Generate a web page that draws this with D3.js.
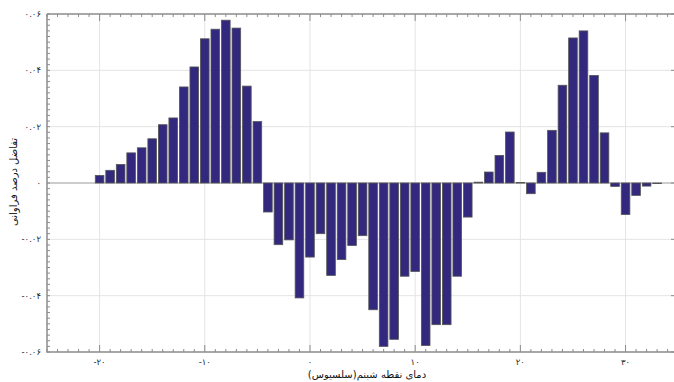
<!DOCTYPE html>
<html>
<head>
<meta charset="utf-8">
<script src="https://cdn.jsdelivr.net/npm/d3@7"></script>
<style>
	body { margin: 0; background: #fff; }
	svg { display: block; }
	text { font-family: "DejaVu Sans", sans-serif; }
</style>
</head>
<body>
<svg id="chart" width="674" height="382"></svg>
<script>
// dew point temperature (°C), one bar per degree
const temps = [
	-20, -19, -18, -17, -16, -15, -14, -13, -12, -11,
	-10, -9, -8, -7, -6, -5, -4, -3, -2, -1,
	0, 1, 2, 3, 4, 5, 6, 7, 8, 9,
	10, 11, 12, 13, 14, 15, 16, 17, 18, 19,
	20, 21, 22, 23, 24, 25, 26, 27, 28, 29,
	30, 31, 32, 33,
];
// difference in frequency percentage
const diffs = [
	0.0027, 0.0045, 0.0066, 0.0107, 0.0125, 0.0157, 0.0207, 0.0231, 0.0341, 0.0412,
	0.0512, 0.0546, 0.0578, 0.0550, 0.0344, 0.0218, -0.0103, -0.0219, -0.0202, -0.0408,
	-0.0263, -0.0180, -0.0328, -0.0272, -0.0222, -0.0187, -0.0450, -0.0580, -0.0555, -0.0331,
	-0.0314, -0.0577, -0.0503, -0.0503, -0.0331, -0.0121, 0.0003, 0.0039, 0.0098, 0.0181,
	0.0002, -0.0038, 0.0038, 0.0187, 0.0347, 0.0515, 0.0540, 0.0382, 0.0178, -0.0012,
	-0.0112, -0.0044, -0.0011, -0.0002,
];
const xTicks = [-20, -10, 0, 10, 20, 30];
const xTickLabels = ['-۲۰', '-۱۰', '۰', '۱۰', '۲۰', '۳۰'];
const yTicks = [0.06, 0.04, 0.02, 0, -0.02, -0.04, -0.06];
const yTickLabels = ['۰.۰۶', '۰.۰۴', '۰.۰۲', '۰', '-۰.۰۲', '-۰.۰۴', '-۰.۰۶'];
const xLabel = 'دمای نقطه شبنم(سلسیوس)';
const yLabel = 'تفاضل درصد فراوانی';

const svg = d3.select('#chart');
const m = { left: 47, right: 675, top: 14, bottom: 352 };

const x = d3.scaleLinear().domain([-25, 34.7]).range([m.left, m.right]);
const y = d3.scaleLinear().domain([-0.06, 0.06]).range([m.bottom, m.top]);

const minorX = d3.range(-25, 35, 1);
const minorY = d3.range(-60, 61, 2).map(d => d / 1000);

// grid
const grid = svg.append('g');
grid.selectAll('line.gx')
	.data(xTicks)
	.enter().append('line')
		.attr('x1', d => x(d)).attr('x2', d => x(d))
		.attr('y1', m.top).attr('y2', m.bottom)
		.attr('stroke', '#e4e4e4').attr('stroke-width', 1);
grid.selectAll('line.gy')
	.data(yTicks.filter(d => d !== 0 && Math.abs(d) < 0.06))
	.enter().append('line')
		.attr('x1', m.left).attr('x2', m.right)
		.attr('y1', d => y(d)).attr('y2', d => y(d))
		.attr('stroke', '#e4e4e4').attr('stroke-width', 1);

// zero line
svg.append('line')
	.attr('x1', m.left).attr('x2', m.right)
	.attr('y1', y(0)).attr('y2', y(0))
	.attr('stroke', '#9a9a9a').attr('stroke-width', 1.2);

// bars
const barW = (x(1) - x(0)) * 0.82;
svg.append('g').selectAll('rect')
	.data(temps.map((t, i) => ({ t, v: diffs[i] })))
	.enter().append('rect')
		.attr('x', d => x(d.t) - barW / 2)
		.attr('width', barW)
		.attr('y', d => y(Math.max(0, d.v)))
		.attr('height', d => Math.max(0.6, Math.abs(y(d.v) - y(0))))
		.attr('fill', '#32297f')
		.attr('stroke', '#555')
		.attr('stroke-width', 0.8);

// frame
const axisColor = '#8c8c8c';
svg.append('path')
	.attr('d', `M${m.left},${m.top}H${m.right}M${m.left},${m.top}V${m.bottom}H${m.right}`)
	.attr('fill', 'none').attr('stroke', axisColor).attr('stroke-width', 1.5);

// minor ticks
const ticks = svg.append('g').attr('stroke', axisColor).attr('stroke-width', 1);
ticks.selectAll('line.tb')
	.data(minorX)
	.enter().append('line')
		.attr('x1', d => x(d)).attr('x2', d => x(d))
		.attr('y1', m.bottom).attr('y2', d => m.bottom - (d % 10 === 0 ? 7 : 3));
ticks.selectAll('line.tt')
	.data(minorX)
	.enter().append('line')
		.attr('x1', d => x(d)).attr('x2', d => x(d))
		.attr('y1', m.top).attr('y2', d => m.top + (d % 10 === 0 ? 7 : 3));
ticks.selectAll('line.tl')
	.data(minorY)
	.enter().append('line')
		.attr('x1', m.left).attr('x2', m.left + 3)
		.attr('y1', d => y(d)).attr('y2', d => y(d));
ticks.selectAll('line.tr')
	.data(yTicks)
	.enter().append('line')
		.attr('x1', m.right).attr('x2', m.right - 4)
		.attr('y1', d => y(d)).attr('y2', d => y(d));

// tick labels
svg.append('g').selectAll('text')
	.data(yTicks)
	.enter().append('text')
		.attr('x', m.left - 6)
		.attr('y', d => y(d))
		.attr('dy', '0.35em')
		.attr('text-anchor', 'end')
		.attr('font-size', 8.5)
		.attr('fill', '#222')
		.text((d, i) => yTickLabels[i]);
svg.append('g').selectAll('text')
	.data(xTicks)
	.enter().append('text')
		.attr('x', d => x(d))
		.attr('y', 365)
		.attr('text-anchor', 'middle')
		.attr('font-size', 8.5)
		.attr('fill', '#222')
		.text((d, i) => xTickLabels[i]);

// axis titles
svg.append('text')
	.attr('x', 367).attr('y', 378)
	.attr('text-anchor', 'middle')
	.attr('font-size', 10)
	.attr('fill', '#111')
	.text(xLabel);
svg.append('text')
	.attr('transform', 'translate(17,182) rotate(-90)')
	.attr('text-anchor', 'middle')
	.attr('font-size', 10)
	.attr('fill', '#111')
	.text(yLabel);
</script>
</body>
</html>
